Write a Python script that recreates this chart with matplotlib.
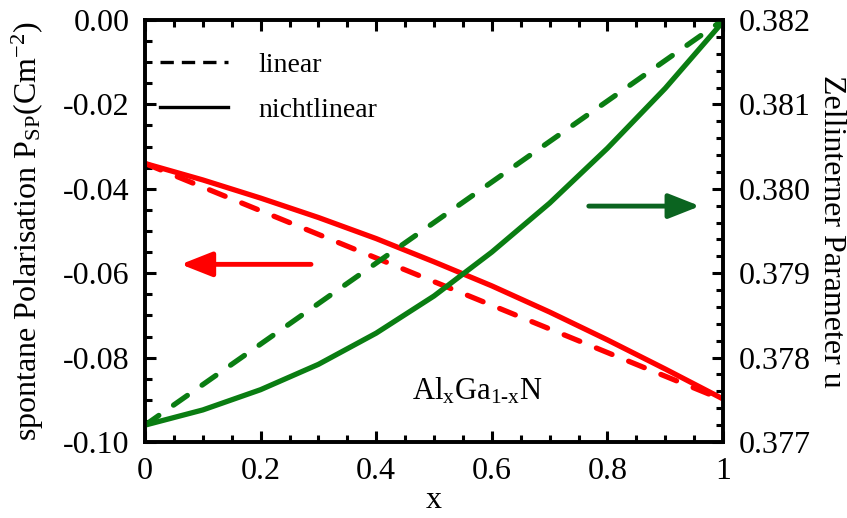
import matplotlib
matplotlib.use('Agg')
import matplotlib.pyplot as plt
from matplotlib.lines import Line2D
from matplotlib.ticker import MultipleLocator, FormatStrFormatter, FuncFormatter

plt.rcParams['font.family'] = ['Liberation Serif', 'DejaVu Serif']
plt.rcParams['mathtext.fontset'] = 'custom'
plt.rcParams['mathtext.rm'] = 'Liberation Serif'
plt.rcParams['mathtext.it'] = 'Liberation Serif:italic'
plt.rcParams['axes.unicode_minus'] = False

# Al content
x = [0.0, 0.1, 0.2, 0.3, 0.4, 0.5, 0.6, 0.7, 0.8, 0.9, 1.0]
# spontaneous polarisation (C/m^2)
p_lin = [-0.0340, -0.0396, -0.0452, -0.0508, -0.0564, -0.0620, -0.0676, -0.0732, -0.0788, -0.0844, -0.0900]
p_nl = [-0.0340, -0.0379, -0.0422, -0.0468, -0.0518, -0.0573, -0.0630, -0.0692, -0.0758, -0.0827, -0.0898]
# internal cell parameter u
u_lin = [0.37720, 0.37768, 0.37816, 0.37864, 0.37912, 0.37960, 0.38008, 0.38056, 0.38104, 0.38152, 0.38200]
u_nl = [0.37720, 0.37738, 0.37762, 0.37792, 0.37829, 0.37873, 0.37925, 0.37983, 0.38048, 0.38119, 0.38198]

red = '#ff0000'
green = '#0a7d12'
darkgreen = '#0b6420'
fs = 23

fig = plt.figure(figsize=(8.47, 5.18), dpi=100)
ax = fig.add_axes([0.1712, 0.1467, 0.6824, 0.8147])
ax2 = ax.twinx()

ax.plot(x, p_nl, color=red, lw=3.8)
ax.plot(x, p_lin, color=red, lw=3.8, dashes=(3.2, 3.4), dash_capstyle='round')
ax2.plot(x, u_nl, color=green, lw=3.8)
ax2.plot(x, u_lin, color=green, lw=3.8, dashes=(3.2, 3.4), dash_capstyle='round')

ax.set_xlim(0, 1)
ax.set_ylim(-0.10, 0.0)
ax2.set_ylim(0.377, 0.382)

ax.xaxis.set_major_locator(MultipleLocator(0.2))
ax.xaxis.set_minor_locator(MultipleLocator(0.05))
ax.yaxis.set_major_locator(MultipleLocator(0.02))
ax.yaxis.set_minor_locator(MultipleLocator(0.005))
ax2.yaxis.set_major_locator(MultipleLocator(0.001))
ax2.yaxis.set_minor_locator(MultipleLocator(0.0002))
ax.xaxis.set_major_formatter(FuncFormatter(lambda v, p: '%g' % round(v, 2)))
ax.yaxis.set_major_formatter(FuncFormatter(lambda v, p: '%.2f' % (round(v, 3) + 0.0)))
ax2.yaxis.set_major_formatter(FormatStrFormatter('%.3f'))

ax.tick_params(which='both', direction='in', top=True, right=False, width=2.2, labelsize=fs, pad=11)
ax.tick_params(which='major', length=8)
ax.tick_params(which='minor', length=5)
ax2.tick_params(which='both', direction='in', width=2.2, labelsize=fs, pad=11)
ax2.tick_params(which='major', length=8)
ax2.tick_params(which='minor', length=5)
for a in (ax, ax2):
    for s in a.spines.values():
        s.set_linewidth(2.6)

ax.set_xlabel('x', fontsize=fs, labelpad=0)
ax.set_ylabel(r'spontane Polarisation P$_\mathrm{SP}$(Cm$^\mathrm{-2}$)', fontsize=23, labelpad=12)
ax2.set_ylabel('Zellinterner Parameter u', fontsize=23, rotation=270, labelpad=26)

arrow = '-|>,head_length=1.9,head_width=0.75'
ax.annotate('', xy=(0.057, 0.421), xytext=(0.292, 0.421), xycoords='axes fraction',
            arrowprops=dict(arrowstyle=arrow, color=red, lw=3.5))
ax.annotate('', xy=(0.965, 0.559), xytext=(0.763, 0.559), xycoords='axes fraction',
            arrowprops=dict(arrowstyle=arrow, color=darkgreen, lw=3.5))

ax.text(0.462, 0.1, r'Al$_\mathrm{x}$Ga$_\mathrm{1\text{-}x}$N', transform=ax.transAxes, fontsize=22)

handles = [Line2D([], [], color='black', lw=2.4, dashes=(4, 2.4)),
           Line2D([], [], color='black', lw=2.4)]
ax.legend(handles, ['linear', 'nichtlinear'], loc='upper left', frameon=False, fontsize=20,
          handlelength=2.45, handletextpad=1.1, labelspacing=0.7, borderaxespad=0,
          bbox_to_anchor=(0.007, 0.95))

fig.savefig('out.png', dpi=100)
